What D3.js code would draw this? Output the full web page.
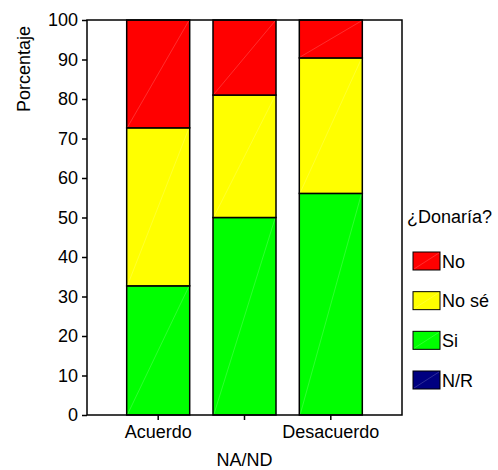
<!DOCTYPE html>
<html><head><meta charset="utf-8">
<script src="https://cdn.jsdelivr.net/npm/d3@7"></script>
<style>body{margin:0;background:#fff}text{font-family:"Liberation Sans",Arial,sans-serif;fill:#000}</style>
</head><body>
<script>
const categories = ["Acuerdo", "NA/ND", "Desacuerdo"];
const seriesNames = ["Si", "No sé", "No", "N/R"];
const siValues = [32.7, 50.0, 56.1];
const noseValues = [40.0, 31.0, 34.3];
const noValues = [27.3, 19.0, 9.6];
const nrValues = [0, 0, 0];
const yTicks = [0, 10, 20, 30, 40, 50, 60, 70, 80, 90, 100];
const legendOrder = ["No", "No sé", "Si", "N/R"];
const colors = {"No": "#ff0000", "No sé": "#ffff00", "Si": "#00ff00", "N/R": "#000080"};

(function () {
const W = 498, H = 470;
const svg = d3.select("body").append("svg").attr("width", W).attr("height", H);
const mLeft = 87, mRight = 402, mTop = 20, mBottom = 415;
const fs = 18;

const x = d3.scaleBand().domain(categories).range([mLeft, mRight]).paddingInner(0.27).paddingOuter(0.46);
const y = d3.scaleLinear().domain([0, 100]).range([mBottom, mTop]);

const table = categories.map((c, i) => ({cat: c, "Si": siValues[i], "No sé": noseValues[i], "No": noValues[i], "N/R": nrValues[i]}));
const stack = d3.stack().keys(seriesNames)(table);

const g = svg.append("g");
stack.forEach(layer => {
  layer.forEach(d => {
    if (d[1] - d[0] <= 0) return;
    const x0 = x(d.data.cat), bw = x.bandwidth();
    const y0 = y(d[0]), y1 = y(d[1]);
    g.append("rect").attr("x", x0).attr("y", y1).attr("width", bw).attr("height", y0 - y1)
      .attr("fill", colors[layer.key]).attr("stroke", "#000").attr("stroke-width", 1.5);
    g.append("line").attr("x1", x0 + 1).attr("y1", y0 - 1).attr("x2", x0 + bw - 1).attr("y2", y1 + 1)
      .attr("stroke", "#fff").attr("stroke-opacity", 0.3).attr("stroke-width", 0.6);
  });
});

svg.append("rect").attr("x", mLeft).attr("y", mTop).attr("width", mRight - mLeft).attr("height", mBottom - mTop)
  .attr("fill", "none").attr("stroke", "#000").attr("stroke-width", 1.5);

const yAxis = svg.append("g").attr("transform", `translate(${mLeft},0)`)
  .call(d3.axisLeft(y).tickValues(yTicks).tickSize(5).tickPadding(4));
yAxis.select(".domain").remove();
yAxis.selectAll("line").attr("stroke", "#000").attr("stroke-width", 1.5);
yAxis.selectAll("text").attr("font-size", fs).attr("font-family", "Liberation Sans, Arial, sans-serif").attr("fill", "#000");

const xAxis = svg.append("g").attr("transform", `translate(0,${mBottom})`)
  .call(d3.axisBottom(x).tickSize(5).tickPadding(5));
xAxis.select(".domain").remove();
xAxis.selectAll("line").attr("stroke", "#000").attr("stroke-width", 1.5);
xAxis.selectAll("text").attr("font-size", fs).attr("font-family", "Liberation Sans, Arial, sans-serif").attr("fill", "#000")
  .attr("dy", (d, i) => i % 2 === 1 ? "2.3em" : "0.71em");

svg.append("text").attr("transform", "translate(30,69) rotate(-90)").attr("text-anchor", "middle")
  .attr("font-size", fs).text("Porcentaje");

svg.append("text").attr("x", 407).attr("y", 223).attr("font-size", fs).text("¿Donaría?");
const ly = d3.scalePoint().domain(legendOrder).range([261, 380]);
legendOrder.forEach(k => {
  const cy = ly(k);
  svg.append("rect").attr("x", 413).attr("y", cy - 9).attr("width", 27).attr("height", 18)
    .attr("fill", colors[k]).attr("stroke", "#000").attr("stroke-width", 1);
  svg.append("line").attr("x1", 414).attr("y1", cy + 8).attr("x2", 439).attr("y2", cy - 8)
    .attr("stroke", "#fff").attr("stroke-opacity", 0.3).attr("stroke-width", 0.6);
  svg.append("text").attr("x", 442).attr("y", cy + 6.5).attr("font-size", fs).text(k);
});
})();
</script>
</body></html>
